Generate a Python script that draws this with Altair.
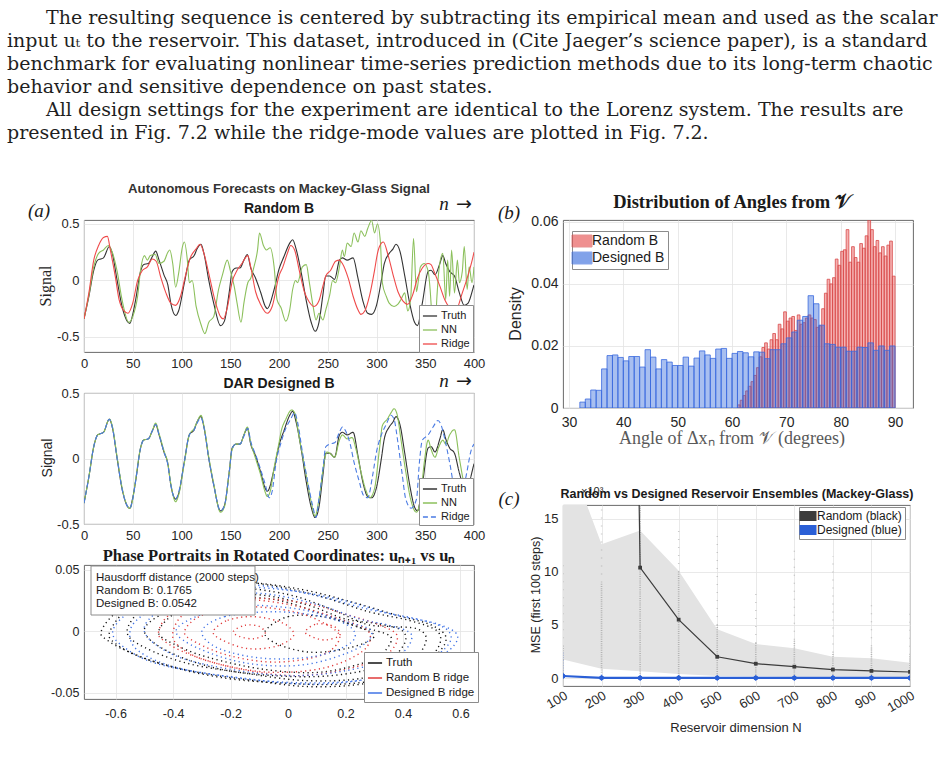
import altair as alt
import pandas as pd

SANS = "Liberation Sans"
SERIF = "Liberation Serif"
BODY = "DejaVu Serif"

# ---------------- text ----------------
paragraph_lines = [
    "The resulting sequence is centered by subtracting its empirical mean and used as the scalar",
    "input uₜ to the reservoir. This dataset, introduced in (Cite Jaeger’s science paper), is a standard",
    "benchmark for evaluating nonlinear time-series prediction methods due to its long-term chaotic",
    "behavior and sensitive dependence on past states.",
    "All design settings for the experiment are identical to the Lorenz system.  The results are",
    "presented in Fig. 7.2 while the ridge-mode values are plotted in Fig. 7.2.",
]
paragraph_indented = [True, False, False, False, True, False]

# ---------------- panel (a): time series ----------------
truth_t = [0, 5, 10, 14, 17, 20, 26, 29, 34, 39, 47, 50, 53, 58, 61, 66, 70, 73.5, 77, 82,
           86, 89, 94, 97, 103, 108, 113, 116, 120, 123, 128, 133, 140, 144, 149, 152, 156, 160, 164, 167.5,
           171, 176, 181, 186, 188, 195, 200, 205, 211, 214, 217.5, 223, 228, 233, 237, 241, 245, 248, 252, 257,
           262, 265, 270, 276, 281, 286, 291, 295, 300, 305, 308, 313, 317, 320, 324, 329, 334, 339, 342, 347,
           353, 356, 360, 365, 368, 371, 375, 380, 385, 390, 394, 399, 400]
truth_v = [-0.34, -0.14, 0.09, 0.18, 0.19, 0.2, 0.3, 0.24, 0.0, -0.23, -0.38, -0.3, -0.17, 0.08, 0.14, 0.15, 0.21, 0.26, 0.18, 0.05,
           -0.04, -0.2, -0.31, -0.27, -0.02, 0.18, 0.22, 0.28, 0.32, 0.24, 0.0, -0.2, -0.4, -0.36, -0.1, 0.08, 0.11, 0.11, 0.18, 0.23,
           0.11, 0.02, -0.1, -0.23, -0.25, -0.08, 0.1, 0.21, 0.33, 0.36, 0.28, 0.06, -0.18, -0.37, -0.45, -0.37, -0.13, 0.04, 0.04, 0.01,
           0.18, 0.2, 0.18, 0.2, 0.02, -0.18, -0.29, -0.3, -0.22, 0.0, 0.15, 0.24, 0.28, 0.32, 0.26, 0.04, -0.2, -0.37, -0.4, -0.2,
           0.08, 0.09, 0.05, 0.15, 0.22, 0.15, 0.08, 0.04, -0.11, -0.22, -0.2, -0.07, -0.04]

ridge_rand_t = [0, 5, 10, 15, 20, 24, 27, 32, 36, 41, 45, 50, 55, 60, 65, 70, 74, 79, 84, 89,
                94, 99, 104, 109, 115, 119, 123, 128, 135, 140, 143, 147, 152, 157, 162, 168, 171, 176, 181, 188,
                193, 200, 204, 209, 212, 216, 221, 226, 231, 236, 241, 245, 248, 253, 258, 262, 265, 271, 276, 281,
                284, 288, 293, 298, 301, 305, 307, 312, 317, 322, 327, 332, 337, 342, 347, 353, 356, 359, 365, 370,
                375, 381, 388, 394, 399, 400]
ridge_rand_v = [-0.34, -0.11, 0.18, 0.31, 0.38, 0.39, 0.27, 0.04, -0.17, -0.27, -0.29, -0.2, 0.0, 0.09, 0.12, 0.19, 0.17, 0.02, -0.11, -0.2,
                -0.22, -0.14, 0.04, 0.2, 0.28, 0.32, 0.24, 0.06, -0.2, -0.32, -0.34, -0.24, -0.01, 0.09, 0.15, 0.22, 0.12, -0.1, -0.21, -0.29,
                -0.23, 0.04, 0.12, 0.25, 0.31, 0.27, 0.08, -0.1, -0.19, -0.23, -0.18, -0.05, 0.04, 0.09, 0.17, 0.18, 0.15, 0.02, -0.14, -0.26,
                -0.3, -0.27, -0.13, 0.09, 0.24, 0.33, 0.34, 0.22, 0.05, -0.1, -0.18, -0.21, -0.13, 0.02, 0.11, 0.15, 0.14, 0.08, -0.05, -0.17,
                -0.24, -0.27, -0.11, 0.05, 0.21, 0.25]

nn_rand_t = [0, 5, 10, 15, 20, 25, 29, 34, 39, 46, 50, 55, 58, 62, 65, 68, 73, 77, 82, 86,
             88, 91, 94, 97, 101, 103, 106, 108, 111, 115, 120, 124, 128, 133, 138, 142, 147, 150, 154, 157,
             161, 164, 168, 171, 174, 178, 180, 184, 187, 191, 195, 198, 202, 207, 211, 214, 217, 219, 224, 228,
             231, 235, 238, 241, 245, 248, 252, 255, 258, 262, 265, 267, 270, 274, 277, 281, 284, 288, 291, 295,
             298, 301, 304, 306, 310, 313, 318, 322, 325, 329, 332, 335, 338, 341, 343, 345, 349, 353, 355, 357,
             359, 362, 364, 368, 371, 373, 375, 377, 380, 383, 385, 388, 390, 393, 395, 398, 400]
nn_rand_v = [-0.34, -0.13, 0.12, 0.24, 0.27, 0.31, 0.25, 0.08, -0.17, -0.37, -0.32, -0.14, 0.09, 0.22, 0.18, 0.22, 0.23, 0.15, 0.17, 0.25,
             0.27, 0.15, -0.06, 0.06, 0.30, 0.34, 0.18, -0.02, 0.0, -0.23, -0.39, -0.47, -0.37, -0.32, -0.08, 0.05, 0.18, 0.09, -0.05, -0.2,
             -0.37, -0.2, -0.02, 0.02, 0.11, 0.27, 0.42, 0.31, 0.27, 0.29, 0.12, -0.17, -0.24, -0.36, -0.26, -0.08, 0.0, -0.02, 0.12, 0.14,
             -0.01, -0.23, -0.35, -0.29, -0.35, -0.26, -0.13, 0.0, -0.02, 0.12, 0.27, 0.21, 0.33, 0.30, 0.42, 0.34, 0.44, 0.39, 0.46, 0.53,
             0.42, 0.5, 0.34, -0.02, -0.14, -0.2, -0.23, -0.21, -0.17, -0.11, -0.27, -0.17, 0.37, -0.1, 0.0, 0.12, 0.15, 0.08, -0.08, -0.35,
             -0.63, -0.14, 0.09, 0.24, -0.17, 0.18, -0.14, 0.27, -0.11, 0.18, -0.02, 0.08, 0.30, -0.08, 0.12, -0.02, 0.12]

nn_des_t = [0, 5, 10, 14, 17, 20, 26, 29, 34, 39, 47, 50, 53, 58, 61, 66, 70, 73.5, 77, 82,
            86, 89, 94, 97, 103, 108, 113, 116, 120, 123, 128, 133, 140, 144, 149, 152, 156, 160, 164, 167.5,
            171, 176, 181, 186, 188, 191, 195, 200, 202, 207, 213, 216, 221, 228, 233, 237, 241, 247, 249, 252,
            257, 262, 265, 270, 275, 279, 284, 289, 293, 298, 303, 306, 311, 315, 318, 321, 325, 330, 335, 341,
            345, 349, 353, 356, 360, 364, 368, 371, 375, 380, 385, 390, 395, 400]
nn_des_v = [-0.34, -0.14, 0.09, 0.18, 0.19, 0.2, 0.3, 0.25, 0.01, -0.22, -0.38, -0.31, -0.16, 0.08, 0.14, 0.15, 0.21, 0.27, 0.19, 0.06,
            -0.04, -0.19, -0.33, -0.28, -0.03, 0.18, 0.23, 0.28, 0.33, 0.25, 0.01, -0.19, -0.41, -0.37, -0.1, 0.07, 0.11, 0.11, 0.18, 0.24,
            0.12, 0.0, -0.12, -0.26, -0.29, -0.25, -0.07, 0.12, 0.2, 0.3, 0.37, 0.35, 0.15, -0.13, -0.33, -0.44, -0.31, 0.0, 0.05, 0.04,
            0.01, 0.14, 0.18, 0.15, 0.16, 0.07, -0.1, -0.24, -0.3, -0.23, 0.07, 0.25, 0.3, 0.35, 0.38, 0.34, 0.15, -0.1, -0.31, -0.41,
            -0.31, -0.03, 0.14, 0.07, 0.01, 0.09, 0.14, 0.11, 0.18, 0.22, 0.0, -0.2, -0.3, -0.33]

ridge_des_t = [0, 5, 10, 14, 17, 20, 26, 29, 34, 39, 47, 50, 53, 58, 61, 66, 70, 73.5, 77, 82,
               86, 89, 94, 97, 103, 108, 113, 116, 120, 123, 128, 133, 140, 144, 149, 152, 156, 160, 164, 168,
               171, 176, 181, 186, 190, 193, 197, 202, 207, 212, 216, 219, 224, 229.5, 234.5, 238, 241, 245, 248, 252,
               257, 262, 265, 269, 273, 277, 282.5, 286.5, 291, 296, 300, 305, 310, 315, 318, 322, 326, 330, 335.5, 341,
               344, 347, 353, 358, 363, 366, 370, 375, 381, 386, 392, 397, 400]
ridge_des_v = [-0.34, -0.14, 0.09, 0.18, 0.19, 0.2, 0.3, 0.24, 0.0, -0.23, -0.38, -0.31, -0.17, 0.08, 0.14, 0.15, 0.21, 0.26, 0.18, 0.05,
               -0.05, -0.2, -0.31, -0.26, -0.02, 0.18, 0.22, 0.27, 0.31, 0.24, 0.0, -0.2, -0.4, -0.36, -0.1, 0.08, 0.11, 0.11, 0.17, 0.23,
               0.13, 0.03, -0.08, -0.2, -0.3, -0.25, -0.03, 0.12, 0.23, 0.3, 0.35, 0.28, 0.05, -0.18, -0.36, -0.45, -0.31, -0.08, 0.09, 0.11,
               0.12, 0.2, 0.24, 0.2, 0.11, -0.03, -0.18, -0.28, -0.3, -0.13, 0.05, 0.18, 0.26, 0.33, 0.3, 0.12, -0.1, -0.31, -0.38, -0.31,
               -0.03, 0.14, 0.18, 0.24, 0.29, 0.26, 0.15, -0.03, -0.26, -0.3, -0.13, 0.06, 0.11]

# ---------------- panel (a): phase portrait orbits (x, y) ----------------
truth_orbits = [
    [(-0.65, 0.0), (-0.6, 0.015), (-0.5, 0.027), (-0.35, 0.039), (-0.15, 0.04), (0.05, 0.034), (0.22, 0.024), (0.38, 0.013),
     (0.5, 0.005), (0.55, -0.006), (0.5, -0.022), (0.37, -0.037), (0.18, -0.043), (-0.02, -0.042), (-0.22, -0.038),
     (-0.42, -0.028), (-0.56, -0.016), (-0.63, -0.007)],
    [(-0.62, 0.0), (-0.55, 0.02), (-0.42, 0.035), (-0.25, 0.042), (-0.05, 0.037), (0.12, 0.028), (0.28, 0.016), (0.42, 0.009),
     (0.52, 0.0), (0.52, -0.014), (0.44, -0.03), (0.28, -0.042), (0.08, -0.045), (-0.12, -0.04), (-0.32, -0.033), (-0.5, -0.022),
     (-0.6, -0.01)],
    [(-0.56, 0.0), (-0.5, 0.02), (-0.38, 0.033), (-0.2, 0.036), (0.0, 0.03), (0.15, 0.018), (0.27, 0.006), (0.35, 0.004),
     (0.45, 0.002), (0.48, -0.008), (0.42, -0.026), (0.26, -0.038), (0.06, -0.04), (-0.15, -0.034), (-0.35, -0.026), (-0.5, -0.013)],
    [(-0.5, 0.0), (-0.44, 0.014), (-0.32, 0.025), (-0.12, 0.03), (0.06, 0.022), (0.2, 0.01), (0.32, 0.006), (0.4, 0.0),
     (0.4, -0.012), (0.32, -0.028), (0.15, -0.036), (-0.05, -0.036), (-0.25, -0.03), (-0.42, -0.016)],
    [(-0.45, 0.0), (-0.38, 0.017), (-0.25, 0.027), (-0.05, 0.026), (0.12, 0.014), (0.25, 0.003), (0.3, 0.001), (0.36, -0.006),
     (0.3, -0.022), (0.12, -0.033), (-0.08, -0.031), (-0.28, -0.021), (-0.4, -0.01)],
    [(-0.08, 0.0), (0.0, 0.012), (0.12, 0.012), (0.24, 0.004), (0.3, -0.004), (0.22, -0.013), (0.08, -0.017), (-0.04, -0.01)],
]
random_orbits = [
    [(-0.45, 0.0), (-0.41, 0.014), (-0.3, 0.024), (-0.12, 0.027), (0.06, 0.023), (0.2, 0.014), (0.32, 0.005), (0.38, -0.004),
     (0.34, -0.019), (0.2, -0.031), (0.02, -0.036), (-0.18, -0.03), (-0.34, -0.019), (-0.43, -0.008)],
    [(-0.4, 0.0), (-0.35, 0.016), (-0.2, 0.026), (0.0, 0.022), (0.18, 0.01), (0.28, 0.0), (0.26, -0.016), (0.12, -0.03),
     (-0.08, -0.033), (-0.28, -0.024), (-0.38, -0.012)],
    [(-0.36, 0.0), (-0.3, 0.013), (-0.15, 0.02), (0.02, 0.016), (0.13, 0.006), (0.18, -0.005), (0.12, -0.019), (-0.04, -0.025),
     (-0.2, -0.02), (-0.32, -0.009)],
    [(-0.26, 0.0), (-0.21, 0.009), (-0.12, 0.012), (-0.02, 0.007), (0.02, -0.003), (-0.04, -0.012), (-0.14, -0.014), (-0.23, -0.007)],
    [(-0.19, 0.0), (-0.15, 0.005), (-0.1, 0.004), (-0.08, -0.002), (-0.12, -0.006), (-0.17, -0.004)],
    [(0.06, 0.0), (0.1, 0.006), (0.16, 0.004), (0.18, -0.003), (0.13, -0.007), (0.08, -0.004)],
]
designed_orbits = [
    [(-0.61, 0.0), (-0.55, 0.016), (-0.42, 0.029), (-0.22, 0.036), (-0.02, 0.034), (0.18, 0.026), (0.36, 0.014), (0.52, 0.006),
     (0.59, -0.004), (0.54, -0.019), (0.4, -0.033), (0.2, -0.041), (-0.04, -0.041), (-0.26, -0.035), (-0.46, -0.026), (-0.57, -0.013)],
    [(-0.55, 0.0), (-0.5, 0.014), (-0.36, 0.03), (-0.15, 0.038), (0.08, 0.03), (0.28, 0.018), (0.45, 0.01), (0.55, 0.002),
     (0.56, -0.01), (0.47, -0.026), (0.3, -0.038), (0.08, -0.043), (-0.16, -0.038), (-0.38, -0.03), (-0.52, -0.016)],
    [(-0.5, 0.0), (-0.44, 0.018), (-0.3, 0.028), (-0.1, 0.031), (0.1, 0.022), (0.25, 0.01), (0.35, 0.005), (0.43, -0.003),
     (0.38, -0.02), (0.2, -0.032), (0.0, -0.036), (-0.22, -0.03), (-0.4, -0.019)],
    [(-0.39, 0.0), (-0.31, 0.013), (-0.16, 0.021), (0.04, 0.018), (0.2, 0.008), (0.29, 0.0), (0.24, -0.014), (0.06, -0.027),
     (-0.14, -0.026), (-0.31, -0.014)],
    [(-0.3, 0.0), (-0.22, 0.012), (-0.05, 0.016), (0.12, 0.012), (0.22, 0.003), (0.22, -0.009), (0.1, -0.02), (-0.08, -0.022),
     (-0.24, -0.014)],
]
hausdorff_lines = ["Hausdorff distance (2000 steps)", "Random B:   0.1765", "Designed B: 0.0542"]

# ---------------- panel (b): angle histograms ----------------
designed_bin_start = [32, 33, 34, 35, 36, 37, 38, 39, 40, 41, 42, 43, 44, 45, 46, 47, 48, 49, 50, 51,
                      52, 53, 54, 55, 56, 57, 58, 59, 60, 61, 62, 63, 64, 65, 66, 67, 68, 69, 70, 71,
                      72, 73, 74, 75, 76, 77, 78, 79, 80, 81, 82, 83, 84, 85, 86, 87, 88, 89]
designed_density = [0.0019, 0.0029, 0.0058, 0.0057, 0.0126, 0.0169, 0.0171, 0.0163, 0.0152, 0.0166,
                    0.0166, 0.0132, 0.0188, 0.0164, 0.0126, 0.0156, 0.0148, 0.0137, 0.0137, 0.0164,
                    0.0135, 0.0161, 0.0184, 0.0171, 0.0160, 0.0190, 0.0192, 0.0160, 0.0176, 0.0182,
                    0.0178, 0.0165, 0.0181, 0.0180, 0.0159, 0.0188, 0.0188, 0.0207, 0.0226, 0.0245,
                    0.0283, 0.0295, 0.0362, 0.0336, 0.0267, 0.0207, 0.0205, 0.0196, 0.0196, 0.0183,
                    0.0183, 0.0196, 0.0195, 0.0210, 0.0186, 0.0200, 0.0186, 0.0200]
random_bin_start = [61.0, 61.5, 62.0, 62.5, 63.0, 63.5, 64.0, 64.5, 65.0, 65.5,
                    66.0, 66.5, 67.0, 67.5, 68.0, 68.5, 69.0, 69.5, 70.0, 70.5,
                    71.0, 71.5, 72.0, 72.5, 73.0, 73.5, 74.0, 74.5, 75.0, 75.5,
                    76.0, 76.5, 77.0, 77.5, 78.0, 78.5, 79.0, 79.5, 80.0, 80.5,
                    81.0, 81.5, 82.0, 82.5, 83.0, 83.5, 84.0, 84.5, 85.0, 85.5,
                    86.0, 86.5, 87.0, 87.5, 88.0, 88.5, 89.0, 89.5]
random_density = [0.001, 0.0025, 0.004, 0.0055, 0.007, 0.0085, 0.0105, 0.013, 0.0165, 0.0195,
                  0.021, 0.019, 0.022, 0.024, 0.022, 0.027, 0.0255, 0.031, 0.028, 0.029,
                  0.0295, 0.025, 0.030, 0.027, 0.0275, 0.029, 0.030, 0.029, 0.0285, 0.026,
                  0.0265, 0.032, 0.037, 0.0415, 0.040, 0.042, 0.048, 0.046, 0.0505, 0.051,
                  0.0575, 0.047, 0.052, 0.0485, 0.047, 0.053, 0.0515, 0.0555, 0.061, 0.0575,
                  0.052, 0.054, 0.050, 0.052, 0.049, 0.0525, 0.0538, 0.0425]

# ---------------- panel (c): ensembles ----------------
ens_N = [100, 200, 300, 400, 500, 600, 700, 800, 900, 1000]
random_mean = [400, 250, 10.4, 5.5, 2.0, 1.35, 1.07, 0.8, 0.67, 0.57]
random_band_lo = [1.75, 0.88, 0.65, 0.38, 0.2, 0.15, 0.13, 0.12, 0.1, 0.1]
random_band_hi = [22.3, 12.6, 13.9, 10.1, 4.6, 3.2, 2.8, 2.0, 1.86, 1.45]
random_runs_lo = [1.7, 0.5, 0.4, 0.2, 0.15, 0.1, 0.1, 0.1, 0.1, 0.1]
random_runs_dense_hi = [3.0, 9.0, 16.5, 10.0, 5.0, 3.3, 3.6, 2.4, 3.0, 2.2]
random_runs_max = [11.0, 16.5, 16.5, 14.0, 13.5, 8.0, 12.6, 11.5, 7.5, 6.5]
designed_mean = [0.19, 0.02, 0.01, 0.01, 0.01, 0.01, 0.01, 0.01, 0.01, 0.01]
designed_runs_max = [2.5, 0.4, 0.2, 0.15, 0.1, 0.1, 0.1, 0.1, 0.1, 0.1]

# ---------------- styling ----------------
TRUTH_C = "#333333"
NN_C = "#8cc05c"
RED_C = "#ef4a4a"
BLUE_C = "#4a7be3"
ONE = pd.DataFrame({"k": [0]})
MINUS_FIX = "replace(datum.label, '\u2212', '-')"


def txt(text, x, y, size=12, font=SANS, weight="normal", style="normal", color="#262626",
        align="center", baseline="middle", angle=None):
    props = dict(text=text, font=font, fontSize=size, fontWeight=weight, fontStyle=style,
                 color=color, align=align, baseline=baseline)
    if angle is not None:
        props["angle"] = angle
    return alt.Chart(ONE).mark_text(**props).encode(x=alt.value(x), y=alt.value(y))


def axis(values, size, pad, fmt, angle=None):
    kw = dict(values=values, title=None, format=fmt, labelExpr=MINUS_FIX, labelFontSize=size,
              labelPadding=pad, labelFont=SANS, labelColor="#262626", grid=True, gridColor="#e3e3e3",
              gridWidth=0.8, ticks=False, domain=False, labelFlush=False, labelOverlap=False)
    if angle is not None:
        kw["labelAngle"] = angle
    return alt.Axis(**kw)


def box_legend(x, y, size, row_pad=1, **kw):
    return alt.Legend(orient="none", legendX=x, legendY=y, title=None, fillColor="white",
                      strokeColor="#8c8c8c", padding=3, rowPadding=row_pad, labelFont=SANS,
                      labelFontSize=size, labelColor="#1a1a1a", labelOffset=3, **kw)


def arrow_n(x, y):
    return [txt("n", x, y, size=19, font=SERIF, style="italic", color="#1a1a1a"),
            txt("→", x + 20, y, size=19, font="DejaVu Sans", color="#1a1a1a")]


W_A, W_B = 390, 350
H_A1, H_A2, H_A3 = 132, 131, 134
H_B, H_C = 188, 181

# ---------------- a1 ----------------
a1_dom = ["Truth", "NN", "Ridge"]
a1_scale = alt.Scale(domain=a1_dom, range=[TRUTH_C, NN_C, RED_C])
a1_leg = box_legend(335, 85, 11, symbolType="stroke", symbolSize=200, symbolStrokeWidth=1.3)
x_ts = alt.X("t:Q", scale=alt.Scale(domain=[0, 400], nice=False, zero=False),
             axis=axis([0, 50, 100, 150, 200, 250, 300, 350, 400], 13, 5, "d"))
y_a1 = alt.Y("v:Q", scale=alt.Scale(domain=[-0.633, 0.535], nice=False, zero=False),
             axis=axis([-0.5, 0, 0.5], 13, 5, ".1~f"))


def ts_layer(t, v, name, field, scale, leg, y_enc, dash_scale=None):
    df = pd.DataFrame({"t": t, "v": v, field: name})
    enc = dict(x=x_ts, y=y_enc, color=alt.Color(f"{field}:N", scale=scale, legend=leg))
    if dash_scale is not None:
        enc["strokeDash"] = alt.StrokeDash(f"{field}:N", scale=dash_scale, legend=leg)
    return alt.Chart(df).mark_line(interpolate="monotone", strokeWidth=1.1, clip=True).encode(**enc)


para_layers = []
for i, (line, ind) in enumerate(zip(paragraph_lines, paragraph_indented)):
    para_layers.append(txt(line, -38 if ind else -77, -202 + 23 * i, size=19, font=BODY,
                           color="#1f1f1f", align="left"))

a1 = alt.layer(
    ts_layer(truth_t, truth_v, "Truth", "s1", a1_scale, a1_leg, y_a1),
    ts_layer(nn_rand_t, nn_rand_v, "NN", "s1", a1_scale, a1_leg, y_a1),
    ts_layer(ridge_rand_t, ridge_rand_v, "Ridge", "s1", a1_scale, a1_leg, y_a1),
    txt("Autonomous Forecasts on Mackey-Glass Signal", 195, -31, size=13.2, weight="bold", color="#333333"),
    txt("Random B", 195, -11, size=14, weight="bold", color="#1a1a1a"),
    txt("(a)", -45, -9, size=19, font=SERIF, style="italic", color="#1a1a1a"),
    *arrow_n(360, -16),
    txt("Signal", -38, 66, size=16, font=SERIF, color="#262626", angle=270),
    *para_layers,
).properties(width=W_A, height=H_A1)

# ---------------- a2 ----------------
a2_scale = alt.Scale(domain=a1_dom, range=[TRUTH_C, NN_C, BLUE_C])
a2_dash = alt.Scale(domain=a1_dom, range=[[1, 0], [1, 0], [5, 3]])
a2_leg = box_legend(335, 85, 11, symbolType="stroke", symbolSize=200, symbolStrokeWidth=1.3)
y_a2 = alt.Y("v:Q", scale=alt.Scale(domain=[-0.5, 0.5], nice=False, zero=False),
             axis=axis([-0.5, 0, 0.5], 13, 5, ".1~f"))
a2 = alt.layer(
    ts_layer(truth_t, truth_v, "Truth", "s2", a2_scale, a2_leg, y_a2, a2_dash),
    ts_layer(nn_des_t, nn_des_v, "NN", "s2", a2_scale, a2_leg, y_a2, a2_dash),
    ts_layer(ridge_des_t, ridge_des_v, "Ridge", "s2", a2_scale, a2_leg, y_a2, a2_dash),
    txt("DAR Designed B", 195, -9, size=14, weight="bold", color="#1a1a1a"),
    *arrow_n(360, -12),
    txt("Signal", -36, 65, size=14, color="#262626", angle=270),
).properties(width=W_A, height=H_A2)

# ---------------- a3 ----------------
rows = []
for name, orbits in [("Truth", truth_orbits), ("Random B ridge", random_orbits), ("Designed B ridge", designed_orbits)]:
    for li, orbit in enumerate(orbits):
        for i, (x, y) in enumerate(orbit):
            rows.append({"s3": name, "loop": f"{name}-{li}", "i": i, "x": x, "y": y})
orb = pd.DataFrame(rows)
a3_dom = ["Truth", "Random B ridge", "Designed B ridge"]
a3_scale = alt.Scale(domain=a3_dom, range=["#111111", "#e03a3a", "#3f72e6"])
a3_leg = box_legend(280, 87, 11.5, symbolType="stroke", symbolSize=200, symbolStrokeWidth=1.3, symbolDash=[1, 0])
x_a3 = alt.X("x:Q", scale=alt.Scale(domain=[-0.71, 0.647], nice=False, zero=False),
             axis=axis([-0.6, -0.4, -0.2, 0, 0.2, 0.4, 0.6], 12.5, 8, ".1~f"))
y_a3 = alt.Y("y:Q", scale=alt.Scale(domain=[-0.055, 0.054], nice=False, zero=False),
             axis=axis([-0.05, 0, 0.05], 12.5, 5, ".2~f"))


def orbit_layer(name):
    return alt.Chart(orb[orb["s3"] == name]).mark_line(
        interpolate="cardinal-closed", strokeDash=[1.2, 3.4], strokeWidth=1.4, clip=True
    ).encode(x=x_a3, y=y_a3, detail="loop:N", order="i:Q",
             color=alt.Color("s3:N", scale=a3_scale, legend=a3_leg))


box = alt.Chart(ONE).mark_rect(fill="white", stroke="#8c8c8c", strokeWidth=1).encode(
    x=alt.value(7), x2=alt.value(171), y=alt.value(1), y2=alt.value(50))
a3 = alt.layer(
    orbit_layer("Truth"), orbit_layer("Random B ridge"), orbit_layer("Designed B ridge"),
    box,
    txt(hausdorff_lines[0], 12, 13, size=11.5, align="left", color="#1a1a1a"),
    txt(hausdorff_lines[1], 12, 26, size=11.5, align="left", color="#1a1a1a"),
    txt(hausdorff_lines[2], 12, 39, size=11.5, align="left", color="#1a1a1a"),
    txt("Phase Portraits in Rotated Coordinates: uₙ₊₁ vs uₙ", 195, -9, size=16.5, font=SERIF,
        weight="bold", color="#1a1a1a"),
).properties(width=W_A, height=H_A3)

# ---------------- b ----------------
b_dom = ["Random B", "Designed B"]
b_fill = alt.Scale(domain=b_dom, range=["#e64646", "#2f66dc"])
b_stroke = alt.Scale(domain=b_dom, range=["#d84a4a", "#3a6ade"])
b_leg = box_legend(9, 11, 14, symbolType="M-1.67,-1H1.67V1H-1.67Z", symbolSize=144,
                   symbolOpacity=0.6, symbolStrokeWidth=1)
x_b = alt.X("start:Q", scale=alt.Scale(domain=[28.9, 93.3], nice=False, zero=False),
            axis=axis([30, 40, 50, 60, 70, 80, 90], 14, 7, "d"))
y_b = alt.Y("d:Q", scale=alt.Scale(domain=[0, 0.0606], nice=False),
            axis=axis([0, 0.02, 0.04, 0.06], 14, 5, ".2~f"))


def hist_layer(starts, dens, name, width):
    df = pd.DataFrame({"start": starts, "d": dens, "sb": name})
    return alt.Chart(df).transform_calculate(end=f"datum.start + {width}").mark_rect(
        fillOpacity=0.42, strokeWidth=0.8, clip=True
    ).encode(x=x_b, x2="end:Q", y=y_b, y2=alt.datum(0),
             fill=alt.Fill("sb:N", scale=b_fill, legend=b_leg),
             stroke=alt.Stroke("sb:N", scale=b_stroke, legend=b_leg))


b = alt.layer(
    hist_layer(random_bin_start, random_density, "Random B", 0.5),
    hist_layer(designed_bin_start, designed_density, "Designed B", 1),
    txt("Distribution of Angles from 𝒱", 169, -18, size=18.5, font=SERIF, weight="bold", color="#1a1a1a"),
    txt("(b)", -54, -7, size=19, font=SERIF, style="italic", color="#1a1a1a"),
    txt("Density", -47, 94, size=16, color="#262626", angle=270),
    txt("Angle of Δxₙ from 𝒱 (degrees)", 169, 219, size=18, font=SERIF, color="#595959"),
).properties(width=W_B, height=H_B)

# ---------------- c ----------------
cdf = pd.DataFrame({"N": ens_N, "mean": random_mean, "lo": random_band_lo, "hi": random_band_hi,
                    "rlo": random_runs_lo, "rdense": random_runs_dense_hi, "rmax": random_runs_max,
                    "dmean": designed_mean, "dmax": designed_runs_max})
x_c = alt.X("N:Q", scale=alt.Scale(domain=[100, 1000], nice=False, zero=False),
            axis=axis([100, 200, 300, 400, 500, 600, 700, 800, 900, 1000], 13, 3, "d", angle=330))
y_scale_c = alt.Scale(domain=[-0.75, 16.3], nice=False, zero=False)
y_axis_c = axis([0, 5, 10, 15], 13, 5, "d")
c_dom = ["Random (black)", "Designed (blue)"]
c_scale = alt.Scale(domain=c_dom, range=["#3c3c3c", "#2a5fd6"])
c_leg = box_legend(236, 2, 12, row_pad=2, symbolType="M-1.7,-1H1.7V1H-1.7Z", symbolSize=100)

band = alt.Chart(cdf).mark_area(color="#e3e3e3", clip=True).encode(
    x=x_c, y=alt.Y("lo:Q", scale=y_scale_c, axis=y_axis_c), y2="hi:Q")
runs_dense = alt.Chart(cdf).mark_rule(color="#8a8a8a", strokeDash=[1, 1.2], strokeWidth=1.6,
                                      opacity=0.55, clip=True).encode(
    x=x_c, y=alt.Y("rlo:Q", scale=y_scale_c, axis=y_axis_c), y2="rdense:Q")
runs_sparse = alt.Chart(cdf).mark_rule(color="#9a9a9a", strokeDash=[1, 7], strokeWidth=1.4,
                                       opacity=0.5, clip=True).encode(
    x=x_c, y=alt.Y("rdense:Q", scale=y_scale_c, axis=y_axis_c), y2="rmax:Q")
runs_des = alt.Chart(cdf).mark_rule(color="#6a90ea", strokeDash=[1, 1.5], strokeWidth=1.6,
                                    opacity=0.45, clip=True).encode(
    x=x_c, y=alt.Y("dmean:Q", scale=y_scale_c, axis=y_axis_c), y2="dmax:Q")
rand_line = alt.Chart(cdf).mark_line(color="#3c3c3c", strokeWidth=1.2, clip=True).encode(
    x=x_c, y=alt.Y("mean:Q", scale=y_scale_c, axis=y_axis_c))
des_line = alt.Chart(cdf).mark_line(color="#2a5fd6", strokeWidth=2.2, clip=True).encode(
    x=x_c, y=alt.Y("dmean:Q", scale=y_scale_c, axis=y_axis_c))
marker_df = pd.concat([
    pd.DataFrame({"N": ens_N, "val": random_mean, "s5": c_dom[0]}),
    pd.DataFrame({"N": ens_N, "val": designed_mean, "s5": c_dom[1]}),
])
markers = alt.Chart(marker_df).mark_point(filled=True, shape="square", size=14, opacity=1, clip=True).encode(
    x=x_c, y=alt.Y("val:Q", scale=y_scale_c, axis=y_axis_c),
    fill=alt.Fill("s5:N", scale=c_scale, legend=c_leg))
des_markers = alt.Chart(cdf).mark_point(filled=True, shape="diamond", size=40, color="#2a5fd6",
                                        opacity=1, clip=True).encode(
    x=x_c, y=alt.Y("dmean:Q", scale=y_scale_c, axis=y_axis_c))

c = alt.layer(
    band, runs_dense, runs_sparse, runs_des, rand_line, des_line, markers, des_markers,
    txt("×10³", 18, -13, size=11, align="left", color="#262626"),
    txt("Random vs Designed Reservoir Ensembles (Mackey-Glass)", 174, -11, size=12.5, weight="bold",
        color="#1a1a1a"),
    txt("(c)", -54, -6, size=19, font=SERIF, style="italic", color="#1a1a1a"),
    txt("MSE (first 100 steps)", -27, 90, size=12.5, color="#262626", angle=270),
    txt("Reservoir dimension N", 173, 223, size=13, color="#262626"),
).properties(width=W_B - 3, height=H_C)

RES = dict(color="independent", fill="independent", stroke="independent", strokeDash="independent")

left = alt.vconcat(a1, a2, a3, spacing=41, bounds="flush").resolve_scale(**RES).resolve_legend(**RES)
right = alt.vconcat(b, c, spacing=97, bounds="flush").resolve_scale(**RES).resolve_legend(**RES)

chart = alt.hconcat(left, right, spacing=479, bounds="flush").resolve_scale(**RES).resolve_legend(**RES).configure_view(
    stroke="#595959", strokeWidth=0.9
).properties(
    padding={"left": 6, "top": 8, "right": 2, "bottom": 2}, background="white"
)

chart.save("out.html", embed_options={"renderer": "svg", "actions": False})
